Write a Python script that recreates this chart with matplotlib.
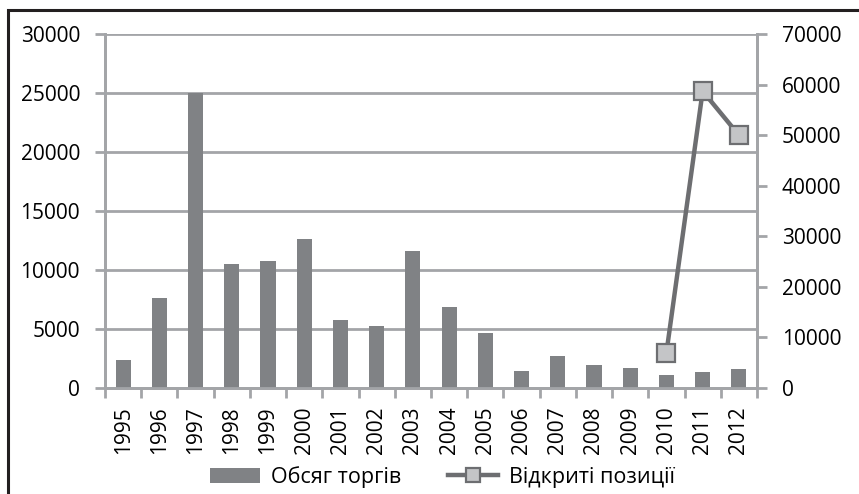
import numpy as np
import matplotlib.pyplot as plt
from matplotlib.patches import Rectangle

years = [str(y) for y in range(1995, 2013)]
volume = [2400, 7600, 25000, 10500, 10800, 12600, 5750, 5250, 11600,
          6850, 4630, 1470, 2720, 1980, 1720, 1120, 1360, 1600]
open_years = [2010, 2011, 2012]
open_pos = [7000, 58700, 50000]

plt.rcParams['font.family'] = ['Open Sans', 'DejaVu Sans']
grid_c = '#a3a5a8'
bar_c = '#808285'
line_c = '#6d6e71'

fig = plt.figure(figsize=(8.59, 4.94), dpi=100)
ax = fig.add_axes([105/859, 106/494, 652/859, 354/494])
ax2 = ax.twinx()

x = np.arange(len(years))
ax.bar(x, volume, width=0.42, color=bar_c, zorder=3, label='Обсяг торгів')
ax.set_xlim(-0.5, len(years) - 0.5)
ax.set_ylim(0, 30000)
ax.set_yticks(range(0, 30001, 5000))
ax.yaxis.grid(True, color=grid_c, lw=2, zorder=0)
ax.set_axisbelow(True)

xi = [years.index(str(y)) for y in open_years]
ax2.plot(xi, open_pos, color=line_c, lw=3.2, marker='s', ms=13,
         mfc='#c4c5c7', mec=line_c, mew=1.6, zorder=5, label='Відкриті позиції')
ax2.set_ylim(0, 70000)
ax2.set_yticks(range(0, 70001, 10000))

ax.set_xticks(x)
ax.set_xticklabels(years, rotation=90, fontsize=15)
ax.set_xticks(np.arange(-0.5, len(years), 1), minor=True)
ax.tick_params(axis='x', which='major', length=0, pad=13)
ax.tick_params(axis='x', which='minor', length=7, width=2, color=grid_c)
ax.tick_params(axis='y', length=7, width=2, color=grid_c, labelsize=15, pad=11)
ax2.tick_params(axis='y', length=7, width=2, color=grid_c, labelsize=15, pad=11)

for a in (ax, ax2):
    a.spines['top'].set_visible(False)
    for s in ('left', 'right', 'bottom'):
        a.spines[s].set_color(grid_c)
        a.spines[s].set_linewidth(2)
    a.patch.set_visible(False)

h1, l1 = ax.get_legend_handles_labels()
h2, l2 = ax2.get_legend_handles_labels()
leg = fig.legend(h1 + h2, l1 + l2, loc='center', bbox_to_anchor=(0.515, 17/494),
                 ncol=2, frameon=False, fontsize=15.5, columnspacing=2.2,
                 handlelength=2.3, handletextpad=0.5, markerscale=0.8)

fig.add_artist(Rectangle((8/859, -0.1), 1.2, 1.1 - 10/494,
                         transform=fig.transFigure, fill=False,
                         ec='#231f20', lw=2.2))

fig.savefig('out.png', dpi=100)
